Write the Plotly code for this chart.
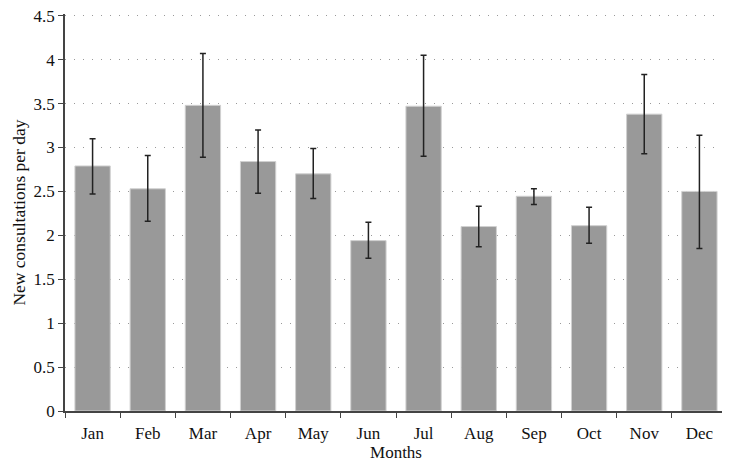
import plotly.graph_objects as go

months = ["Jan", "Feb", "Mar", "Apr", "May", "Jun", "Jul", "Aug", "Sep", "Oct", "Nov", "Dec"]
means = [2.79, 2.53, 3.48, 2.84, 2.70, 1.94, 3.47, 2.10, 2.445, 2.11, 3.38, 2.50]
upper = [3.10, 2.91, 4.07, 3.20, 2.99, 2.15, 4.05, 2.33, 2.53, 2.32, 3.83, 3.14]
lower = [2.47, 2.16, 2.89, 2.48, 2.42, 1.74, 2.90, 1.87, 2.35, 1.91, 2.93, 1.85]

err_plus = [u - m for u, m in zip(upper, means)]
err_minus = [m - l for m, l in zip(means, lower)]

font_family = "Liberation Serif, DejaVu Serif, serif"

fig = go.Figure(
    go.Bar(
        x=months,
        y=means,
        marker=dict(color="#999999", line=dict(color="#d0d0d0", width=1)),
        error_y=dict(
            type="data",
            symmetric=False,
            array=err_plus,
            arrayminus=err_minus,
            color="#222222",
            thickness=1.5,
            width=3,
        ),
    )
)

# page body has an 8px default margin; size the figure to compensate
fig.update_layout(
    width=722,
    height=462,
    margin=dict(l=57, r=3, t=6, b=59),
    plot_bgcolor="white",
    paper_bgcolor="white",
    bargap=0.36,
    showlegend=False,
    font=dict(family=font_family, size=17, color="#111111"),
)

fig.update_xaxes(
    title=dict(text="Months", font=dict(size=17), standoff=1),
    automargin=False,
    showline=True,
    linecolor="#444444",
    linewidth=1.5,
    ticks="outside",
    tickson="boundaries",
    ticklen=5,
    ticklabelstandoff=6,
    tickcolor="#444444",
    showgrid=False,
)

fig.update_yaxes(
    title=dict(text="New consultations per day", font=dict(size=17.5), standoff=3),
    automargin=False,
    range=[0, 4.52],
    dtick=0.5,
    tick0=0,
    ticklabeloverflow="allow",
    showline=True,
    linecolor="#444444",
    linewidth=1.5,
    ticks="outside",
    ticklen=5,
    tickcolor="#444444",
    showgrid=True,
    gridcolor="#999999",
    griddash="1px,8px",
    gridwidth=1.2,
    zeroline=False,
)

fig.write_html("out.html")
